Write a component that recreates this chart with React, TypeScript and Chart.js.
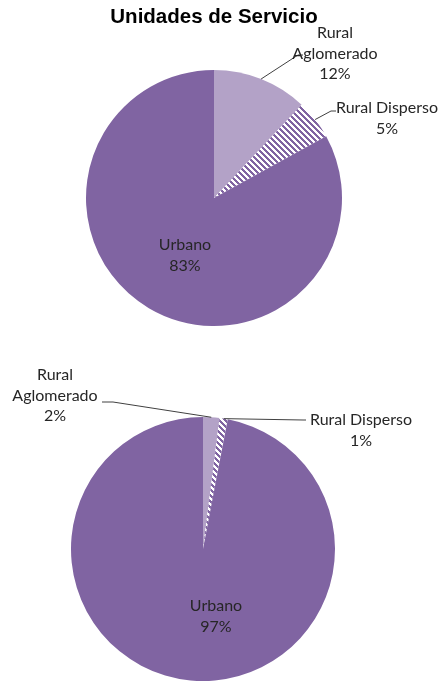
import React, { useEffect, useRef } from "react";
import { Chart, registerables } from "chart.js";

Chart.register(...registerables);

const categories = ["Rural Aglomerado", "Rural Disperso", "Urbano"];
const valuesTop = [12, 5, 83];
const valuesBottom = [2, 1, 97];
const titleText = "Unidades de Servicio";

const PURPLE = "#8064A2";
const LIGHT = "#B3A2C7";
const TEXT = "#262626";
const FONT = "16px Lato";

type LabelLayout = {
  x: number;
  y: number;
  split: boolean;
  elbow?: [number, number];
  end?: [number, number];
};

const topLayout: LabelLayout[] = [
  { x: 335, y: 33, split: true, elbow: [298, 55], end: [303, 55] },
  { x: 387, y: 108, split: false, elbow: [331, 111], end: [336, 111] },
  { x: 185, y: 245, split: false },
];

const bottomLayout: LabelLayout[] = [
  { x: 55, y: 35, split: true, elbow: [113, 62], end: [102, 62] },
  { x: 361, y: 80, split: false, elbow: [303, 80], end: [306, 80] },
  { x: 216, y: 266, split: false },
];

function makeHatch(): CanvasPattern | string {
  const c = document.createElement("canvas");
  const N = 6;
  c.width = N;
  c.height = N;
  const ctx = c.getContext("2d");
  if (!ctx) return PURPLE;
  const img = ctx.createImageData(N, N);
  for (let y = 0; y < N; y++) {
    for (let x = 0; x < N; x++) {
      const k = (((x - y) % N) + N) % N;
      const i = (y * N + x) * 4;
      if (k < 3) {
        img.data[i] = 0x80;
        img.data[i + 1] = 0x64;
        img.data[i + 2] = 0xa2;
      } else {
        img.data[i] = 255;
        img.data[i + 1] = 255;
        img.data[i + 2] = 255;
      }
      img.data[i + 3] = 255;
    }
  }
  ctx.putImageData(img, 0, 0);
  const p = ctx.createPattern(c, "repeat");
  return p || PURPLE;
}

const labelPlugin = {
  id: "pieLabels",
  afterDatasetsDraw(chart: any, _args: any, opts: any) {
    const layout: LabelLayout[] = opts.layout || [];
    const ctx = chart.ctx;
    const meta = chart.getDatasetMeta(0);
    const data: number[] = chart.data.datasets[0].data;
    const total = data.reduce((a, b) => a + b, 0);
    ctx.save();
    meta.data.forEach((arc: any, i: number) => {
      const L = layout[i];
      if (!L) return;
      const p = arc.getProps(["x", "y", "startAngle", "endAngle", "outerRadius"], true);
      if (L.elbow && L.end) {
        const mid = (p.startAngle + p.endAngle) / 2;
        const sx = p.x + Math.cos(mid) * p.outerRadius;
        const sy = p.y + Math.sin(mid) * p.outerRadius;
        ctx.beginPath();
        ctx.strokeStyle = "#404040";
        ctx.lineWidth = 1;
        ctx.moveTo(sx, sy);
        ctx.lineTo(L.elbow[0], L.elbow[1]);
        ctx.lineTo(L.end[0], L.end[1]);
        ctx.stroke();
      }
      const name = chart.data.labels[i] as string;
      const lines = L.split ? name.split(" ") : [name];
      lines.push(Math.round((data[i] / total) * 100) + "%");
      ctx.fillStyle = TEXT;
      ctx.font = FONT;
      ctx.textAlign = "center";
      ctx.textBaseline = "middle";
      lines.forEach((t, j) => ctx.fillText(t, L.x, L.y + j * 20.5));
    });
    ctx.restore();
  },
};

function PieChart(props: {
  values: number[];
  layout: LabelLayout[];
  height: number;
  padding: { left: number; right: number; top: number; bottom: number };
}) {
  const ref = useRef<HTMLCanvasElement>(null);
  useEffect(() => {
    if (!ref.current) return;
    const hatch = makeHatch();
    const chart = new Chart(ref.current, {
      type: "pie",
      data: {
        labels: categories,
        datasets: [
          {
            data: props.values,
            backgroundColor: [LIGHT, hatch as any, PURPLE],
            borderWidth: 0,
          },
        ],
      },
      options: {
        responsive: false,
        animation: false,
        events: [],
        layout: { padding: props.padding },
        plugins: {
          legend: { display: false },
          tooltip: { enabled: false },
          title: { display: false },
          pieLabels: { layout: props.layout },
        } as any,
      },
      plugins: [labelPlugin],
    });
    return () => chart.destroy();
  }, []);
  return (
    <canvas
      ref={ref}
      width={441}
      height={props.height}
      style={{ display: "block", width: 441, height: props.height }}
    />
  );
}

export default function App() {
  useEffect(() => {
    document.body.style.margin = "0";
  }, []);
  return (
    <div style={{ position: "relative", width: 441, height: 682, background: "#fff", overflow: "hidden" }}>
      <div
        style={{
          position: "absolute",
          left: 0,
          top: 4,
          width: 428,
          textAlign: "center",
          font: "bold 20.5px 'Liberation Sans', Arial, sans-serif",
          color: "#000",
          zIndex: 2,
        }}
      >
        {titleText}
      </div>
      <div style={{ position: "absolute", left: 0, top: 0 }}>
        <PieChart values={valuesTop} layout={topLayout} height={340} padding={{ left: 86, right: 99, top: 70, bottom: 14 }} />
      </div>
      <div style={{ position: "absolute", left: 0, top: 340 }}>
        <PieChart values={valuesBottom} layout={bottomLayout} height={342} padding={{ left: 71, right: 106, top: 77, bottom: 1 }} />
      </div>
    </div>
  );
}
